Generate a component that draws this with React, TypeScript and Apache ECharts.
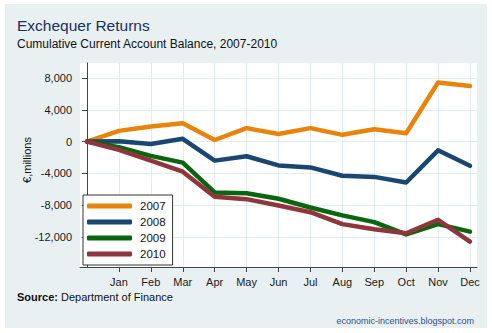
import React, { useEffect, useRef } from "react";
import * as echarts from "echarts";

const months = ["Jan", "Feb", "Mar", "Apr", "May", "Jun", "Jul", "Aug", "Sep", "Oct", "Nov", "Dec"];
const monthPositions = [0, 1, 2, 3, 4, 5, 6, 7, 8, 9, 10, 11, 12];
const yTicks = [-12000, -8000, -4000, 0, 4000, 8000];
const xTicks = [1, 2, 3, 4, 5, 6, 7, 8, 9, 10, 11, 12];

const seriesNames = ["2007", "2008", "2009", "2010"];
const values2007 = [0, 1350, 1900, 2300, 200, 1700, 950, 1700, 850, 1550, 1050, 7450, 7000];
const values2008 = [0, 50, -300, 350, -2400, -1850, -3000, -3250, -4300, -4450, -5150, -1100, -3050];
const values2009 = [0, -700, -1800, -2650, -6400, -6500, -7200, -8300, -9300, -10150, -11700, -10400, -11350];
const values2010 = [0, -1050, -2400, -3800, -6950, -7250, -8050, -8900, -10400, -11050, -11550, -9850, -12600];
const allValues = [values2007, values2008, values2009, values2010];
const colors = ["#e8840c", "#1a476f", "#0a660c", "#8f363c"];

const FONT = "'Liberation Sans', Arial, sans-serif";

export default function App() {
  const ref = useRef<HTMLDivElement>(null);
  useEffect(() => {
    if (!ref.current) return;
    const chart = echarts.init(ref.current, null, { renderer: "svg" });
    const option: any = {
      animation: false,
      textStyle: { fontFamily: FONT },
      grid: {
        left: 80,
        right: 15,
        top: 63,
        bottom: 66,
        show: true,
        backgroundColor: "#ffffff",
        borderWidth: 0,
      },
      xAxis: {
        type: "value",
        min: -0.22,
        max: 12.22,
        axisLine: { show: true, onZero: false, lineStyle: { color: "#444", width: 1 } },
        axisTick: { show: true, length: 5, customValues: xTicks, lineStyle: { color: "#444" } },
        axisLabel: {
          customValues: xTicks,
          margin: 9,
          fontSize: 11,
          color: "#1a1a1a",
          fontFamily: FONT,
          formatter: (v: number) => months[Math.round(v) - 1] || "",
        },
        splitLine: { show: true, lineStyle: { color: "#e4edef", width: 1 } },
      },
      yAxis: {
        type: "value",
        min: -15800,
        max: 9900,
        axisLine: { show: true, lineStyle: { color: "#444", width: 1 } },
        axisTick: { show: true, length: 5, customValues: yTicks, lineStyle: { color: "#444" } },
        axisLabel: {
          customValues: yTicks,
          margin: 8,
          fontSize: 11,
          color: "#1a1a1a",
          fontFamily: FONT,
          formatter: (v: number) => v.toLocaleString("en-US"),
        },
        splitLine: { show: true, lineStyle: { color: "#e4edef", width: 1 } },
      },
      legend: {
        orient: "vertical",
        left: 83,
        top: 195,
        padding: [4, 7, 4, 4],
        itemGap: 2,
        itemWidth: 45,
        itemHeight: 5,
        icon: "roundRect",
        borderColor: "#333",
        borderWidth: 1,
        borderRadius: 0,
        backgroundColor: "#ffffff",
        textStyle: { fontSize: 11.5, color: "#111", fontFamily: FONT, lineHeight: 14, padding: [0, 0, 0, 3] },
        data: seriesNames,
      },
      graphic: [
        {
          type: "text",
          x: 17,
          y: 25.3,
          style: { text: "Exchequer Returns", font: `15.5px ${FONT}`, fill: "#1c2f5e", verticalAlign: "middle" },
        },
        {
          type: "text",
          x: 17,
          y: 44.3,
          style: { text: "Cumulative Current Account Balance, 2007-2010", font: `12px ${FONT}`, fill: "#111", verticalAlign: "middle" },
        },
        {
          type: "text",
          x: 27,
          y: 160,
          rotation: Math.PI / 2,
          style: { text: "€,millions", font: `11px ${FONT}`, fill: "#111", align: "center", verticalAlign: "middle" },
        },
        {
          type: "text",
          x: 17,
          y: 297,
          style: {
            text: "{b|Source:} Department of Finance",
            font: `11px ${FONT}`,
            fill: "#111",
            verticalAlign: "middle",
            rich: { b: { fontWeight: "bold", fontSize: 11, fontFamily: FONT, fill: "#111" } },
          },
        },
        {
          type: "text",
          x: 474,
          y: 321,
          style: { text: "economic-incentives.blogspot.com", font: `9px ${FONT}`, fill: "#2f5085", align: "right", verticalAlign: "middle" },
        },
      ],
      series: allValues.map((vals, i) => ({
        name: seriesNames[i],
        type: "line",
        showSymbol: false,
        symbol: "none",
        color: colors[i],
        lineStyle: { width: 4.5, color: colors[i], cap: "round", join: "round" },
        data: vals.map((v, j) => [monthPositions[j], v]),
        z: 2 + i,
      })),
    };
    chart.setOption(option);
    return () => chart.dispose();
  }, []);

  return (
    <div style={{ position: "fixed", left: 0, top: 0, width: 492, height: 333, background: "#ffffff" }}>
      <div style={{ position: "absolute", left: 5, top: 4, width: 482, height: 324, background: "#e8f0f2" }} />
      <div ref={ref} style={{ position: "absolute", left: 0, top: 0, width: 492, height: 333 }} />
    </div>
  );
}
